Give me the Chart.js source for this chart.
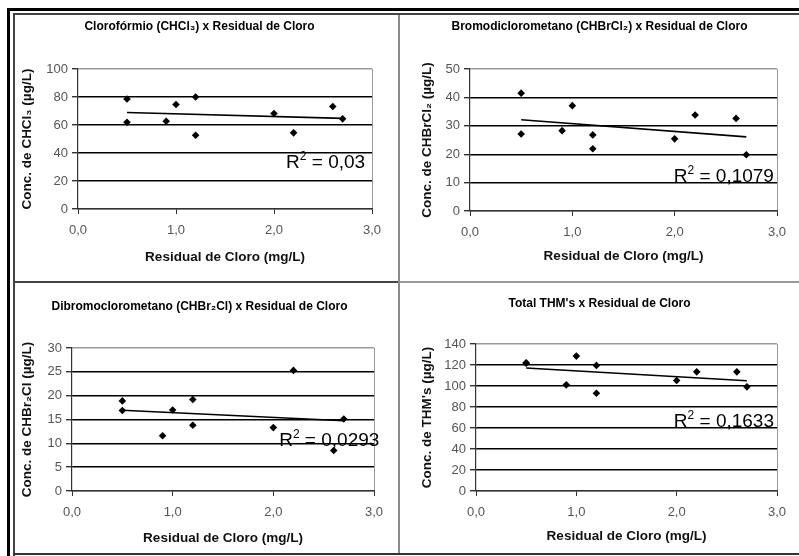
<!DOCTYPE html>
<html>
<head>
<meta charset="utf-8">
<script src="https://cdn.jsdelivr.net/npm/chart.js@4.4.1/dist/chart.umd.min.js"></script>
<style>
  html, body { margin: 0; padding: 0; background: #fff; }
  #sheet { position: relative; width: 799px; height: 556px; overflow: hidden; background: #fff; }
  canvas.panel { position: absolute; }
  .rule { position: absolute; }
</style>
</head>
<body>
<div id="sheet">
  <canvas id="c1" class="panel" style="left:0;top:0" width="399" height="281"></canvas>
  <canvas id="c2" class="panel" style="left:400px;top:0" width="399" height="281"></canvas>
  <canvas id="c3" class="panel" style="left:0;top:283px" width="399" height="273"></canvas>
  <canvas id="c4" class="panel" style="left:400px;top:283px" width="399" height="273"></canvas>

  <!-- double frame round the sheet and the dividers between the four plots -->
  <div class="rule" style="left:7px;top:8px;width:3px;height:548px;background:#000"></div>
  <div class="rule" style="left:7px;top:8px;width:792px;height:3px;background:#000"></div>
  <div class="rule" style="left:13px;top:13px;width:2px;height:543px;background:#444"></div>
  <div class="rule" style="left:13px;top:13px;width:786px;height:2px;background:#444"></div>
  <div class="rule" style="left:13px;top:553px;width:786px;height:2px;background:#333"></div>
  <div class="rule" style="left:398px;top:15px;width:2px;height:538px;background:#8a8a8a"></div>
  <div class="rule" style="left:15px;top:281px;width:383px;height:2px;background:#444"></div>
  <div class="rule" style="left:400px;top:281px;width:399px;height:2px;background:#9a9a9a"></div>
</div>

<script>
// Residual chlorine (mg/L) for each sample
const residualCloro = [0.5, 0.5, 0.9, 1.0, 1.2, 1.2, 2.0, 2.2, 2.6, 2.7];

// Trihalomethane concentrations (µg/L) for the same samples
const chcl3   = [78.6, 62.0, 62.7, 74.6, 80.0, 52.7, 68.2, 54.4, 73.2, 64.4];
const chbrcl2 = [41.5, 27.1, 28.3, 37.1, 26.8, 21.9, 25.4, 33.8, 32.6, 19.8];
const chbr2cl = [18.9, 16.9, 11.6, 17.0, 19.2, 13.8, 13.3, 25.3, 8.5, 15.1];
const thmTotal = [122.1, 121.6, 101.1, 128.5, 119.6, 93.1, 105.2, 113.5, 113.5, 99.2];

// Text shown on each plot
const plotTitles = [
  'Clorofórmio (CHCl\u2083) x Residual de Cloro',
  'Bromodiclorometano (CHBrCl\u2082) x Residual de Cloro',
  'Dibromoclorometano (CHBr\u2082Cl) x Residual de Cloro',
  "Total THM's x Residual de Cloro"
];
const yTitles = [
  'Conc. de CHCl\u2083 (\u00b5g/L)',
  'Conc. de CHBrCl\u2082 (\u00b5g/L)',
  'Conc. de CHBr\u2082Cl (\u00b5g/L)',
  "Conc. de THM's (\u00b5g/L)"
];
const xTitle = 'Residual de Cloro (mg/L)';
const r2Values = ['0,03', '0,1079', '0,0293', '0,1633'];

// Axis ranges and tick labels
const xTickLabels = ['0,0', '1,0', '2,0', '3,0'];
const yMaxima = [100, 50, 30, 140];
const ySteps  = [20, 10, 5, 20];

// Placement of each plot inside its canvas
const panels = [
  { id: 'c1', area: { left: 78, right: 372, top: 69, bottom: 209 }, titleY: 27, yTitlePad: 19.5, xTitlePad: 16, r2At: { x: 2.93, y: 29.3 } },
  { id: 'c2', area: { left: 70, right: 377, top: 69, bottom: 211 }, titleY: 27, yTitlePad: 19.5, xTitlePad: 16.5, r2At: { x: 2.97, y: 10.3 } },
  { id: 'c3', area: { left: 72, right: 374, top: 65, bottom: 208 }, titleY: 24, yTitlePad: 19.5, xTitlePad: 10, r2At: { x: 3.053, y: 9.5 } },
  { id: 'c4', area: { left: 76, right: 377, top: 61, bottom: 208 }, titleY: 21, yTitlePad: 19, xTitlePad: 11.5, r2At: { x: 2.97, y: 60.7 } }
];
const seriesList = [chcl3, chbrcl2, chbr2cl, thmTotal];

const FONT = '"Liberation Sans", Arial, sans-serif';

// Least-squares straight line over the range of x
function linearTrend(xs, ys) {
  const n = xs.length;
  const mx = xs.reduce((a, b) => a + b, 0) / n;
  const my = ys.reduce((a, b) => a + b, 0) / n;
  let sxy = 0, sxx = 0;
  for (let i = 0; i < n; i++) {
    sxy += (xs[i] - mx) * (ys[i] - my);
    sxx += (xs[i] - mx) * (xs[i] - mx);
  }
  const slope = sxy / sxx;
  const x0 = Math.min(...xs), x1 = Math.max(...xs);
  return [
    { x: x0, y: my + slope * (x0 - mx) },
    { x: x1, y: my + slope * (x1 - mx) }
  ];
}

// Plot heading, centred on the canvas
const headingPlugin = {
  id: 'heading',
  afterDraw(chart, args, opts) {
    const ctx = chart.ctx;
    ctx.save();
    ctx.font = 'bold 12px ' + FONT;
    ctx.fillStyle = '#000';
    ctx.textAlign = 'center';
    ctx.textBaseline = 'middle';
    ctx.fillText(opts.text, chart.width / 2, opts.y);
    ctx.restore();
  }
};

// "R² = …" annotation, right-aligned at a point given in data units
const r2Plugin = {
  id: 'r2label',
  afterDraw(chart, args, opts) {
    const ctx = chart.ctx;
    const xs = chart.scales.x, ys = chart.scales.y;
    const right = xs.getPixelForValue(opts.x);
    const base = ys.getPixelForValue(opts.y);
    const big = '19px ' + FONT, small = '12px ' + FONT;
    ctx.save();
    ctx.fillStyle = '#000';
    ctx.textBaseline = 'alphabetic';
    ctx.textAlign = 'left';
    ctx.font = big;
    const wR = ctx.measureText('R').width;
    const rest = ' = ' + opts.value;
    const wRest = ctx.measureText(rest).width;
    ctx.font = small;
    const w2 = ctx.measureText('2').width;
    let x = right - (wR + w2 + wRest);
    ctx.font = big;
    ctx.fillText('R', x, base);
    x += wR;
    ctx.font = small;
    ctx.fillText('2', x, base - 8);
    x += w2;
    ctx.font = big;
    ctx.fillText(rest, x, base);
    ctx.restore();
  }
};

panels.forEach((p, i) => {
  const canvas = document.getElementById(p.id);
  const W = canvas.width, H = canvas.height;
  const ys = seriesList[i];
  const points = residualCloro.map((x, k) => ({ x: x, y: ys[k] }));
  const yMax = yMaxima[i];

  new Chart(canvas, {
    type: 'scatter',
    data: {
      datasets: [
        {
          data: points,
          pointStyle: 'rectRot',
          pointRadius: 3.8,
          pointBackgroundColor: '#000',
          pointBorderWidth: 0,
          order: 0
        },
        {
          type: 'line',
          data: linearTrend(residualCloro, ys),
          borderColor: '#000',
          borderWidth: 1.6,
          pointRadius: 0,
          fill: false,
          order: 1
        }
      ]
    },
    options: {
      responsive: false,
      animation: false,
      events: [],
      layout: { padding: { left: 0, right: W - p.area.right, top: p.area.top, bottom: 0 } },
      plugins: {
        legend: { display: false },
        tooltip: { enabled: false },
        heading: { text: plotTitles[i], y: p.titleY },
        r2label: { value: r2Values[i], x: p.r2At.x, y: p.r2At.y }
      },
      scales: {
        x: {
          type: 'linear',
          min: 0, max: 3,
          afterFit(scale) { scale.height = H - p.area.bottom; },
          ticks: {
            stepSize: 1,
            color: '#555',
            font: { family: FONT, size: 13 },
            padding: 9,
            maxRotation: 0,
            callback: (v) => xTickLabels[Math.round(v)]
          },
          grid: {
            drawOnChartArea: true,
            color: (c) => (c.tick && c.tick.value === 3 ? '#9a9a9a' : 'rgba(0,0,0,0)'),
            tickColor: '#333',
            tickLength: 5,
            lineWidth: 1
          },
          border: { color: '#333', width: 1.2 },
          title: {
            display: true,
            text: xTitle,
            color: '#111',
            font: { family: FONT, size: 13.5, weight: 'bold' },
            padding: { top: 0, bottom: p.xTitlePad }
          }
        },
        y: {
          min: 0, max: yMax,
          afterFit(scale) { scale.width = p.area.left; },
          ticks: {
            stepSize: ySteps[i],
            color: '#555',
            font: { family: FONT, size: 13 },
            padding: 4
          },
          grid: {
            color: (c) => {
              const v = c.tick ? c.tick.value : null;
              if (v === yMax) return '#9a9a9a';
              if (v === 0) return '#333';
              return '#000';
            },
            tickColor: '#333',
            tickLength: 6,
            lineWidth: 1.4
          },
          border: { color: '#333', width: 1.2 },
          title: {
            display: true,
            text: yTitles[i],
            color: '#111',
            font: { family: FONT, size: 13.5, weight: 'bold' },
            padding: { top: p.yTitlePad, bottom: 0 }
          }
        }
      }
    },
    plugins: [headingPlugin, r2Plugin]
  });
});
</script>
</body>
</html>
